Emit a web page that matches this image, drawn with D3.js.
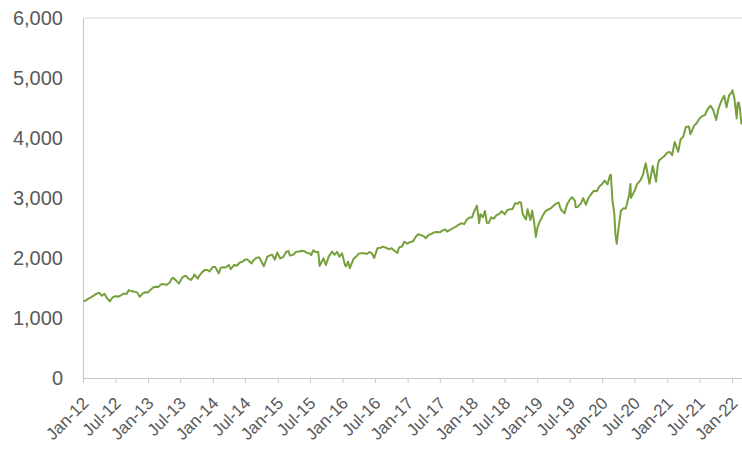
<!DOCTYPE html>
<html>
<head>
<meta charset="utf-8">
<script src="https://cdn.jsdelivr.net/npm/d3@7"></script>
<style>
  body { margin: 0; background: #fff; }
  text { font-family: "Liberation Sans", Arial, sans-serif; fill: #595959; }
</style>
</head>
<body>
<div id="chart-container"></div>
<script>
const width = 742;
const height = 453;

// Index level, roughly twice a month
const dates = [
    "2012-01-03","2012-01-17","2012-02-01","2012-02-15","2012-03-01","2012-03-15","2012-04-02","2012-04-16","2012-05-01","2012-05-15","2012-06-01","2012-06-15","2012-07-02","2012-07-16","2012-08-01","2012-08-15","2012-09-04","2012-09-14","2012-10-01","2012-10-15","2012-11-01","2012-11-15","2012-12-03","2012-12-17","2012-12-31",
    "2013-01-15","2013-02-01","2013-02-15","2013-03-01","2013-03-15","2013-04-01","2013-04-15","2013-05-01","2013-05-15","2013-05-21","2013-06-03","2013-06-24","2013-07-01","2013-07-15","2013-08-01","2013-08-15","2013-08-30","2013-09-16","2013-09-18","2013-10-08","2013-10-15","2013-11-01","2013-11-15","2013-12-02","2013-12-13","2013-12-31",
    "2014-01-15","2014-02-03","2014-02-14","2014-03-03","2014-03-14","2014-04-01","2014-04-11","2014-05-01","2014-05-15","2014-06-02","2014-06-16","2014-07-01","2014-07-15","2014-08-01","2014-08-07","2014-08-15","2014-09-02","2014-09-18","2014-10-01","2014-10-15","2014-11-03","2014-11-14","2014-12-01","2014-12-16","2014-12-29",
    "2015-01-15","2015-02-02","2015-02-17","2015-03-02","2015-03-11","2015-04-01","2015-04-15","2015-05-01","2015-05-15","2015-06-01","2015-06-15","2015-07-01","2015-07-08","2015-07-20","2015-08-03","2015-08-17","2015-08-25","2015-09-01","2015-09-16","2015-09-29","2015-10-15","2015-11-03","2015-11-16","2015-12-01","2015-12-14","2015-12-29",
    "2016-01-15","2016-01-20","2016-02-01","2016-02-11","2016-03-01","2016-03-15","2016-04-01","2016-04-15","2016-05-02","2016-05-16","2016-06-01","2016-06-15","2016-06-27","2016-07-15","2016-08-01","2016-08-15","2016-09-01","2016-09-15","2016-10-03","2016-10-17","2016-11-04","2016-11-15","2016-12-01","2016-12-13","2016-12-30",
    "2017-01-17","2017-02-01","2017-02-15","2017-03-01","2017-03-15","2017-04-03","2017-04-13","2017-05-01","2017-05-15","2017-06-01","2017-06-15","2017-07-03","2017-07-17","2017-08-01","2017-08-11","2017-09-01","2017-09-15","2017-10-02","2017-10-16","2017-11-01","2017-11-15","2017-12-01","2017-12-15","2017-12-29",
    "2018-01-12","2018-01-26","2018-02-08","2018-02-15","2018-03-01","2018-03-12","2018-03-23","2018-04-02","2018-04-16","2018-05-01","2018-05-15","2018-06-01","2018-06-15","2018-07-02","2018-07-16","2018-08-01","2018-08-15","2018-08-29","2018-09-14","2018-09-20","2018-10-01","2018-10-11","2018-10-29","2018-11-07","2018-11-23","2018-12-03","2018-12-14","2018-12-24",
    "2019-01-02","2019-01-15","2019-02-01","2019-02-15","2019-03-01","2019-03-15","2019-04-01","2019-04-15","2019-05-01","2019-05-13","2019-06-03","2019-06-17","2019-07-01","2019-07-15","2019-08-01","2019-08-05","2019-08-15","2019-09-03","2019-09-16","2019-10-02","2019-10-15","2019-11-01","2019-11-15","2019-12-02","2019-12-16","2019-12-31",
    "2020-01-15","2020-01-31","2020-02-14","2020-02-19","2020-02-28","2020-03-09","2020-03-16","2020-03-23","2020-04-01","2020-04-15","2020-05-01","2020-05-13","2020-06-01","2020-06-08","2020-06-11","2020-07-01","2020-07-15","2020-08-03","2020-08-17","2020-09-02","2020-09-23","2020-10-12","2020-10-30","2020-11-09","2020-11-16","2020-12-01","2020-12-15","2020-12-31",
    "2021-01-15","2021-01-29","2021-02-12","2021-03-04","2021-03-17","2021-04-01","2021-04-16","2021-05-03","2021-05-12","2021-06-01","2021-06-15","2021-07-01","2021-07-15","2021-08-02","2021-08-16","2021-09-02","2021-09-16","2021-10-04","2021-10-15","2021-11-01","2021-11-18","2021-12-01","2021-12-15","2021-12-31",
    "2022-01-03","2022-01-14","2022-01-27","2022-02-02","2022-02-09","2022-02-15","2022-02-23"
];
const values = [
    1277,1293,1324,1343,1374,1403,1419,1370,1405,1330,1278,1343,1365,1354,1376,1405,1404,1465,1444,1440,1427,1353,1410,1430,1426,
    1472,1513,1520,1518,1561,1562,1552,1583,1658,1669,1640,1573,1614,1682,1706,1661,1633,1697,1725,1655,1698,1762,1798,1800,1775,1848,
    1848,1742,1838,1845,1841,1885,1815,1884,1870,1925,1937,1973,1973,1925,1910,1955,2002,2011,1946,1862,2018,2039,2053,1972,2090,
    1992,2020,2100,2117,2040,2059,2106,2108,2122,2111,2084,2077,2046,2128,2098,2102,1868,1914,1995,1884,2023,2109,2053,2102,2021,2078,
    1880,1859,1940,1829,1978,2016,2073,2081,2081,2066,2100,2072,2001,2162,2170,2190,2171,2147,2161,2126,2085,2180,2192,2271,2239,
    2268,2280,2350,2396,2385,2359,2329,2388,2402,2430,2433,2429,2460,2476,2441,2476,2500,2529,2557,2579,2564,2642,2676,2674,
    2786,2873,2581,2731,2678,2784,2588,2582,2678,2655,2711,2735,2780,2727,2798,2814,2818,2914,2905,2931,2924,2729,2641,2814,2633,2790,2600,2351,
    2510,2610,2707,2776,2804,2822,2868,2905,2924,2812,2744,2890,2964,3014,2953,2844,2848,2906,2998,2887,2995,3067,3120,3114,3191,3231,
    3289,3226,3380,3386,2954,2747,2386,2237,2471,2783,2831,2820,3056,3232,3002,3116,3227,3295,3382,3580,3237,3535,3270,3550,3627,3662,3695,3756,
    3768,3714,3934,3768,3974,4020,4185,4192,4063,4202,4246,4320,4360,4387,4479,4537,4473,4300,4471,4613,4705,4513,4709,4766,
    4796,4663,4327,4589,4587,4471,4225
];

const yTicks = [0, 1000, 2000, 3000, 4000, 5000, 6000];
const xTickDates = d3.timeMonth.range(new Date(2012, 0, 1), new Date(2022, 1, 1), 6);

const margin = {top: 18, right: 0, bottom: 75, left: 83};

const parse = d3.timeParse("%Y-%m-%d");
const data = dates.map((d, i) => ({date: parse(d), value: values[i]}));

const x = d3.scaleTime([new Date(2012, 0, 1), new Date(2022, 1, 26)], [margin.left, width - margin.right]);
const y = d3.scaleLinear([0, 6000], [height - margin.bottom, margin.top]);

const line = d3.line()
    .x(d => x(d.date))
    .y(d => y(d.value));

const svg = d3.select("#chart-container")
    .append("svg")
    .attr("viewBox", [0, 0, width, height])
    .attr("width", width)
    .attr("height", height);

// frame: top edge
svg.append("line")
    .attr("x1", margin.left).attr("x2", width)
    .attr("y1", margin.top).attr("y2", margin.top)
    .attr("stroke", "#d9d9d9");

svg.append("g")
    .attr("transform", `translate(${margin.left},0)`)
    .call(d3.axisLeft(y).tickValues(yTicks).tickSize(0).tickPadding(20).tickFormat(d3.format(",")))
    .call(g => g.select(".domain").attr("stroke", "#c8c8c8").attr("stroke-width", 1.2))
    .call(g => g.selectAll("text").attr("font-size", 20).attr("fill", "#595959"));

svg.append("g")
    .attr("transform", `translate(0,${height - margin.bottom})`)
    .call(d3.axisBottom(x).tickValues(xTickDates).tickSize(5).tickSizeOuter(0).tickFormat(d3.timeFormat("%b-%y")))
    .call(g => g.select(".domain").attr("stroke", "#c8c8c8"))
    .call(g => g.selectAll(".tick line").attr("stroke", "#c8c8c8"))
    .call(g => g.selectAll("text")
        .attr("font-size", 17)
        .attr("fill", "#595959")
        .attr("text-anchor", "end")
        .attr("x", 0)
        .attr("y", 0)
        .attr("dy", "0.35em")
        .attr("transform", "translate(2,22) rotate(-45)"));

svg.append("path")
    .datum(data)
    .attr("fill", "none")
    .attr("stroke", "#77a03c")
    .attr("stroke-width", 2)
    .attr("stroke-linejoin", "round")
    .attr("d", line);
</script>
</body>
</html>
